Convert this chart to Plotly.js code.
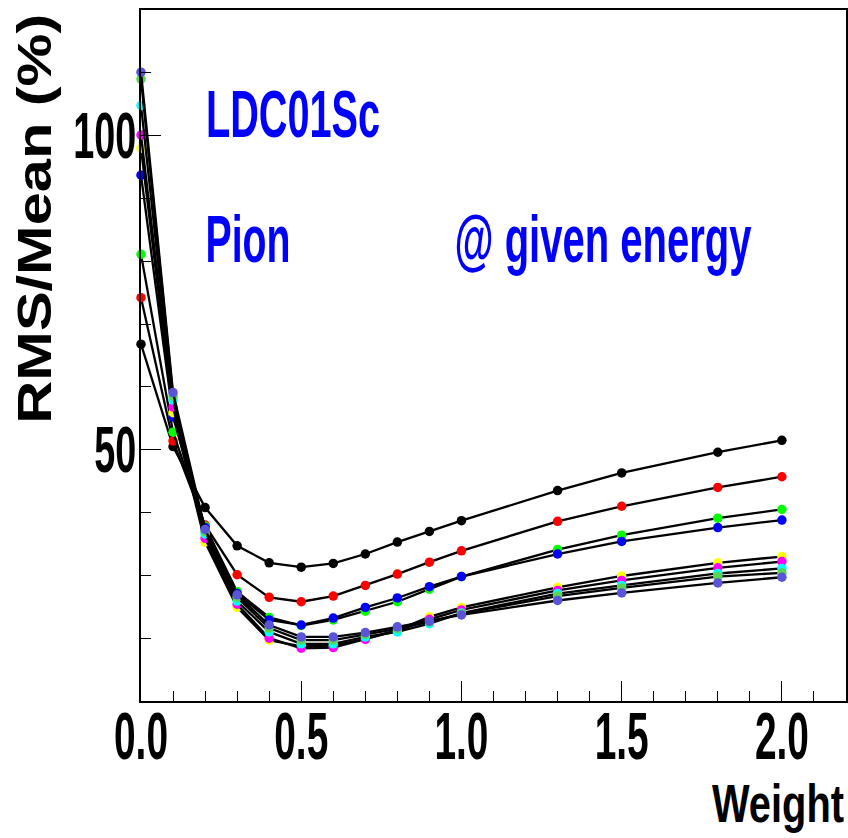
<!DOCTYPE html>
<html>
<head>
<meta charset="utf-8">
<script src="https://cdn.plot.ly/plotly-3.0.1.min.js"></script>
<style>
  html, body { margin: 0; padding: 0; background: #ffffff; }
  #plot { width: 848px; height: 838px; }
</style>
</head>
<body>
<div id="plot"></div>
<script>
// ---- data ----
var weights = [0, 0.1, 0.2, 0.3, 0.4, 0.5, 0.6, 0.7, 0.8, 0.9, 1.0, 1.3, 1.5, 1.8, 2.0];

var seriesBlack     = [66.8, 50.5, 40.8, 34.7, 32.0, 31.3, 31.9, 33.4, 35.3, 37.0, 38.7, 43.5, 46.3, 49.6, 51.5];
var seriesRed       = [74.2, 51.4, 38.0, 30.1, 26.5, 25.8, 26.7, 28.4, 30.2, 32.1, 33.9, 38.6, 41.0, 44.0, 45.7];
var seriesGreen     = [81.1, 52.8, 37.8, 27.4, 23.3, 22.0, 22.9, 24.3, 25.8, 27.8, 29.8, 34.1, 36.4, 39.1, 40.5];
var seriesBlue      = [93.7, 55.2, 37.6, 27.1, 22.9, 22.1, 23.2, 24.9, 26.4, 28.2, 29.8, 33.4, 35.4, 37.6, 38.8];
var seriesYellow    = [98.0, 55.9, 35.3, 24.9, 19.7, 18.7, 18.8, 19.9, 21.3, 23.4, 24.9, 28.1, 29.9, 32.0, 33.0];
var seriesMagenta   = [100.1, 56.8, 35.9, 25.4, 20.0, 18.4, 18.5, 19.8, 21.2, 23.0, 24.5, 27.6, 29.2, 31.2, 32.2];
var seriesCyan      = [104.8, 57.9, 36.6, 25.9, 21.0, 19.1, 19.1, 20.2, 21.0, 22.3, 24.0, 27.1, 28.4, 30.3, 31.1];
var seriesDarkGreen = [109.0, 58.5, 37.0, 26.5, 21.6, 19.7, 19.7, 20.6, 21.5, 22.6, 23.9, 26.7, 28.0, 29.8, 30.4];
var seriesViolet    = [110.1, 59.1, 37.3, 26.9, 22.1, 20.2, 20.2, 20.9, 21.8, 22.7, 23.7, 26.0, 27.2, 28.8, 29.7];

var allSeries   = [seriesBlack, seriesRed, seriesGreen, seriesBlue, seriesYellow, seriesMagenta, seriesCyan, seriesDarkGreen, seriesViolet];
var markerColors = ['#000000', '#ff0000', '#00ff00', '#0000ff', '#ffff00', '#ff00ff', '#00ffff', '#59d454', '#5954d8'];

var xTitle = 'Weight';
var yTitle = 'RMS/Mean (%)';
var label1 = 'LDC01Sc';
var label2 = 'Pion';
var label3 = '@ given energy';

// ---- traces ----
var FONT = 'Liberation Sans, Arial, Helvetica, sans-serif';
var data = allSeries.map(function (ys, i) {
  return {
    type: 'scatter',
    mode: 'lines+markers',
    x: weights,
    y: ys,
    cliponaxis: false,
    line: { color: '#000000', width: 2.3 },
    marker: { color: markerColors[i], size: 9.5, symbol: 'circle', line: { width: 0 } },
    showlegend: false,
    hoverinfo: 'skip'
  };
});

// placement of the free texts (pixels): centre x, baseline y, rendered width, glyph height size
var textSpecs = [
  { text: label1, color: '#0000ff', cx: 293, base: 137, width: 174, size: 66 },
  { text: label2, color: '#0000ff', cx: 248, base: 262, width: 85,  size: 66 },
  { text: label3, color: '#0000ff', cx: 603, base: 262, width: 297, size: 66 },
  { text: xTitle, color: '#000000', cx: 778, base: 822, width: 132, size: 54 }
];

function px2paperX(px) { return (px - 141) / 705; }
function px2paperY(py) { return (701 - py) / 691; }

var annotations = textSpecs.map(function (s) {
  return {
    text: s.text, xref: 'paper', yref: 'paper',
    x: px2paperX(s.cx), y: px2paperY(s.base - 0.36 * s.size),
    xanchor: 'center', yanchor: 'middle', showarrow: false,
    font: { family: FONT, size: s.size, weight: 700, color: s.color }
  };
});
annotations.push({
  text: yTitle, xref: 'paper', yref: 'paper', x: px2paperX(34), y: px2paperY(219),
  xanchor: 'center', yanchor: 'middle', textangle: -90, showarrow: false,
  font: { family: FONT, size: 48, weight: 700, color: '#000000' }
});

var layout = {
  width: 848,
  height: 838,
  margin: { l: 141, r: 2, t: 10, b: 137, pad: 0 },
  paper_bgcolor: '#ffffff',
  plot_bgcolor: '#ffffff',
  showlegend: false,
  font: { family: FONT, color: '#000000' },
  xaxis: {
    range: [0, 2.2],
    tick0: 0, dtick: 0.5,
    tickformat: '.1f',
    ticks: 'inside', ticklen: 20, tickwidth: 1, tickcolor: '#000000',
    minor: { dtick: 0.1, ticks: 'inside', ticklen: 10, tickwidth: 1, tickcolor: '#000000', showgrid: false },
    showline: true, linecolor: '#000000', linewidth: 2, mirror: true,
    showgrid: false, zeroline: false,
    tickfont: { family: FONT, size: 66, weight: 700, color: '#000000' },
    ticklabelstandoff: 0,
    automargin: false
  },
  yaxis: {
    range: [10, 120],
    tick0: 0, dtick: 50,
    ticks: 'inside', ticklen: 20, tickwidth: 1, tickcolor: '#000000',
    minor: { dtick: 10, ticks: 'inside', ticklen: 10, tickwidth: 1, tickcolor: '#000000', showgrid: false },
    showline: true, linecolor: '#000000', linewidth: 2, mirror: true,
    showgrid: false, zeroline: false,
    tickfont: { family: FONT, size: 64, weight: 700, color: '#000000' },
    automargin: false
  },
  annotations: annotations
};

function squeeze(el, w) {
  el.setAttribute('textLength', w);
  el.setAttribute('lengthAdjust', 'spacingAndGlyphs');
}
function shift(el, dx, dy) {
  var tr = el.getAttribute('transform') || '';
  el.setAttribute('transform', (tr + ' translate(' + dx + ',' + dy + ')').trim());
}
function findAnnText(txt) {
  var found = null;
  gd.querySelectorAll('.annotation-text').forEach(function (t) {
    if (t.textContent === txt) found = t;
  });
  return found;
}

var gd = document.getElementById('plot');
Plotly.newPlot(gd, data, layout, { staticPlot: true, displayModeBar: false }).then(function () {
  // pass 1: choose a font size whose natural width equals the target width
  var upd = {};
  textSpecs.forEach(function (s, i) {
    var t = findAnnText(s.text);
    if (!t) return;
    var w0 = t.getComputedTextLength();
    s.fsNew = s.size * s.width / w0;
    upd['annotations[' + i + '].font.size'] = s.fsNew;
    upd['annotations[' + i + '].y'] = px2paperY(s.base - 0.36 * s.fsNew);
  });
  return Plotly.relayout(gd, upd);
}).then(function () {
  gd.querySelectorAll('.xtick text').forEach(function (t) {
    squeeze(t, 54);
    shift(t, 0, -23);
  });
  gd.querySelectorAll('.ytick text').forEach(function (t) {
    var n = (t.textContent || '').length;
    squeeze(t, n * 21);
    shift(t, 10, 0);
  });
  var yt = findAnnText(yTitle);
  if (yt) squeeze(yt, 410);
  // pass 2: stretch the narrower text vertically about its baseline to the ROOT glyph height
  textSpecs.forEach(function (s) {
    var t = findAnnText(s.text);
    if (!t || !s.fsNew) return;
    squeeze(t, s.width);
    var xl = parseFloat(t.getAttribute('x') || 0) || 0;
    var yl = parseFloat(t.getAttribute('y') || 0) || 0;
    var ctm = t.getCTM();
    var absX = ctm.a * xl + ctm.c * yl + ctm.e;
    var absY = ctm.b * xl + ctm.d * yl + ctm.f;
    var k = s.size / s.fsNew;
    var dx = s.cx - absX, dy = s.base - absY;
    var tr = t.getAttribute('transform') || '';
    t.setAttribute('transform', (tr + ' translate(' + dx + ',' + dy + ') translate(' + xl + ',' + yl +
      ') scale(1,' + k + ') translate(' + (-xl) + ',' + (-yl) + ')').trim());
  });
});
</script>
</body>
</html>
